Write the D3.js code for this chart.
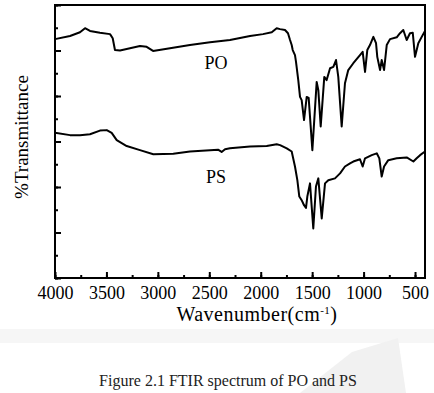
<!DOCTYPE html>
<html>
<head>
<meta charset="utf-8">
<script src="https://cdn.jsdelivr.net/npm/d3@7"></script>
<style>
  body { margin: 0; background: #fff; }
  text { font-family: "Liberation Serif", "Times New Roman", serif; fill: #000; }
</style>
</head>
<body>
<div id="vis"></div>
<script>
// spectra: wavenumber (cm-1) and transmittance (arbitrary %)
let poWave = [4000, 3854, 3757, 3708, 3660, 3563, 3465, 3439, 3417, 3368, 3271, 3174, 3109, 3047, 2882, 2688, 2493, 2299, 2104, 1978, 1893, 1845, 1812, 1764, 1735, 1715, 1699, 1689, 1667, 1657, 1635, 1618, 1602, 1579, 1553, 1534, 1498, 1456, 1440, 1417, 1382, 1359, 1326, 1294, 1268, 1246, 1213, 1181, 1149, 1100, 1035, 1009, 986, 964, 938, 905, 879, 867, 840, 824, 801, 775, 743, 678, 646, 614, 581, 549, 522, 500, 468, 435, 403];
let poT = [52.5, 53.2, 54.0, 54.9, 54.3, 53.9, 53.6, 52.7, 50.1, 50.0, 50.5, 51.0, 50.8, 49.9, 50.5, 51.2, 51.8, 52.3, 53.2, 53.6, 54.0, 54.9, 54.7, 54.5, 53.8, 52.3, 51.2, 50.1, 49.0, 47.5, 43.5, 39.8, 39.1, 34.7, 39.8, 39.6, 28.1, 43.1, 41.3, 33.3, 44.2, 43.5, 46.1, 46.4, 47.9, 44.2, 33.3, 42.8, 45.7, 47.2, 49.0, 49.7, 45.3, 50.1, 51.2, 53.0, 51.6, 48.6, 45.7, 47.9, 45.7, 51.2, 52.5, 52.9, 53.8, 54.5, 52.3, 53.8, 53.9, 48.6, 51.6, 53.0, 54.3];

let psWave = [4000, 3854, 3757, 3660, 3563, 3497, 3449, 3400, 3303, 3174, 3044, 2850, 2688, 2493, 2415, 2380, 2347, 2299, 2104, 1942, 1845, 1812, 1747, 1699, 1667, 1644, 1625, 1602, 1579, 1560, 1547, 1521, 1489, 1463, 1440, 1407, 1375, 1343, 1278, 1229, 1181, 1132, 1100, 1035, 1009, 986, 921, 872, 847, 824, 801, 760, 678, 581, 516, 484, 451, 403];
let psT = [31.9, 31.4, 31.4, 31.6, 32.4, 32.5, 31.9, 30.3, 29.0, 28.1, 27.2, 27.3, 27.8, 28.1, 28.2, 27.7, 28.3, 28.5, 28.9, 29.0, 29.4, 29.2, 28.5, 27.8, 24.5, 21.5, 17.9, 17.1, 16.0, 15.4, 17.9, 20.8, 10.9, 20.1, 21.9, 13.1, 20.8, 21.5, 21.9, 23.0, 24.5, 25.2, 25.6, 26.1, 24.5, 26.3, 27.0, 27.4, 26.3, 22.3, 24.5, 25.9, 26.3, 26.5, 25.6, 26.3, 27.0, 27.8];

let xTickValues = [4000, 3500, 3000, 2500, 2000, 1500, 1000, 500];
let seriesNames = ['PO', 'PS'];
let caption = 'Figure 2.1 FTIR spectrum of PO and PS';

let margin = { top: 5, left: 55, right: 9, bottom: 115 },
  width = 434 - margin.left - margin.right,
  height = 393 - margin.top - margin.bottom;

let svg = d3.select('#vis')
  .append('svg')
  .attr('width', 434)
  .attr('height', 393);

// faint page shading under the plot
svg.append('rect')
  .attr('x', 0).attr('y', 329).attr('width', 434).attr('height', 14)
  .attr('fill', '#f6f6f6');
svg.append('path')
  .attr('d', 'M300,393 L352,352 L398,338 L406,393 Z')
  .attr('fill', '#f1f1f1');

let g = svg.append('g')
  .attr('transform', `translate(${margin.left},${margin.top})`);

let x = d3.scaleLinear().domain([4000, 403]).range([0, width]);
let y = d3.scaleLinear().domain([0, 60]).range([height, 0]);

// x axis, ticks pointing inward
let xMinor = d3.range(4000, 403, -250);
g.append('g')
  .attr('transform', `translate(0,${height})`)
  .call(d3.axisBottom(x).tickValues(xMinor).tickSize(-3).tickFormat(''))
  .call(a => a.select('.domain').remove())
  .selectAll('line').attr('stroke-width', 2);

let xAx = g.append('g')
  .attr('transform', `translate(0,${height})`)
  .call(d3.axisBottom(x).tickValues(xTickValues).tickSize(-6).tickPadding(8).tickFormat(d3.format('d')));
xAx.select('.domain').remove();
xAx.selectAll('line').attr('stroke-width', 2);
xAx.attr('font-family', null).attr('font-size', null);
xAx.selectAll('text')
  .style('font-family', '"Liberation Serif", "Times New Roman", serif')
  .style('font-size', '18px')
  .style('fill', '#000');

// y axis, no labels
g.append('g')
  .call(d3.axisLeft(y).tickValues(d3.range(0, 61, 5)).tickSize(-3).tickFormat(''))
  .call(a => a.select('.domain').remove())
  .selectAll('line').attr('stroke-width', 2);
g.append('g')
  .call(d3.axisLeft(y).tickValues(d3.range(0, 61, 10)).tickSize(-6).tickFormat(''))
  .call(a => a.select('.domain').remove())
  .selectAll('line').attr('stroke-width', 2);

// frame
g.append('rect')
  .attr('width', width).attr('height', height)
  .attr('fill', 'none').attr('stroke', '#000').attr('stroke-width', 2);

let line = d3.line()
  .x(d => x(d[0]))
  .y(d => y(d[1]));

let series = [d3.zip(poWave, poT), d3.zip(psWave, psT)];

g.selectAll('.spec')
  .data(series)
  .join('path')
  .attr('class', 'spec')
  .attr('d', line)
  .attr('fill', 'none')
  .attr('stroke', '#000')
  .attr('stroke-width', 2)
  .attr('stroke-linejoin', 'round');

// series labels
g.selectAll('.lab')
  .data(seriesNames)
  .join('text')
  .attr('class', 'lab')
  .attr('x', x(2435))
  .attr('y', (d, i) => i == 0 ? y(45.9) : y(20.9))
  .attr('text-anchor', 'middle')
  .attr('font-size', 18)
  .text(d => d);

// axis titles
let xt = svg.append('text')
  .attr('x', 257)
  .attr('y', 321)
  .attr('text-anchor', 'middle')
  .attr('font-size', 20)
  .style('letter-spacing', '0.5px');
xt.append('tspan').text('Wavenumber(cm');
xt.append('tspan').attr('font-size', 11).attr('dy', -7).text('-1');
xt.append('tspan').attr('dy', 7).text(')');

svg.append('text')
  .attr('transform', 'translate(28,137) rotate(-90)')
  .attr('text-anchor', 'middle')
  .attr('font-size', 19)
  .text('%Transmittance');

svg.append('text')
  .attr('x', 228)
  .attr('y', 386)
  .attr('text-anchor', 'middle')
  .attr('font-size', 16)
  .style('fill', '#222')
  .text(caption);
</script>
</body>
</html>
